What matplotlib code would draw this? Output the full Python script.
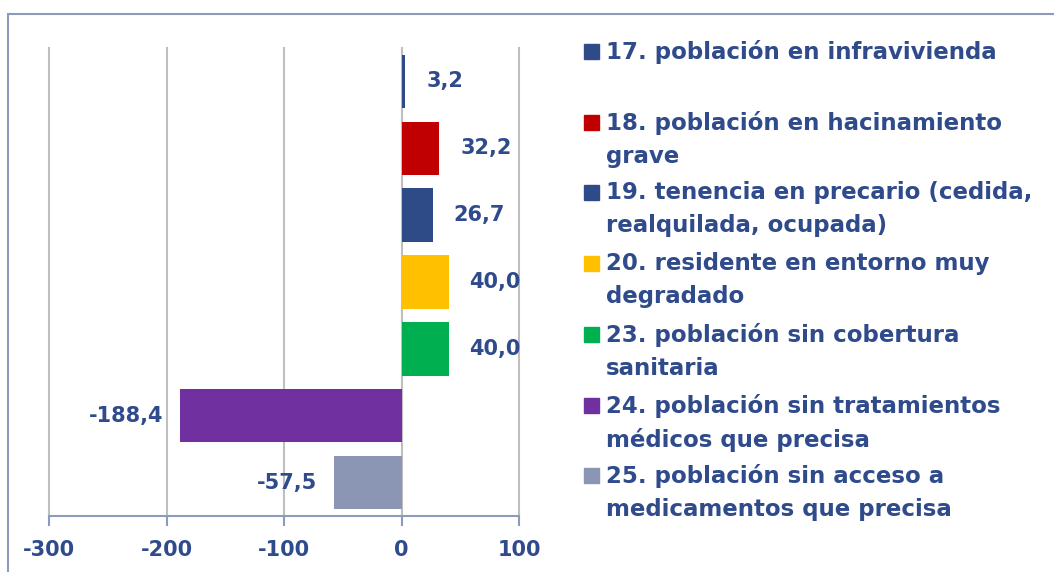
import matplotlib.pyplot as plt
from matplotlib.patches import Rectangle

# Data
labels = [
    '17. población en infravivienda',
    '18. población en hacinamiento\ngrave',
    '19. tenencia en precario (cedida,\nrealquilada, ocupada)',
    '20. residente en entorno muy\ndegradado',
    '23. población sin cobertura\nsanitaria',
    '24. población sin tratamientos\nmédicos que precisa',
    '25. población sin acceso a\nmedicamentos que precisa',
]
values = [3.2, 32.2, 26.7, 40.0, 40.0, -188.4, -57.5]
colors = ['#2E4A87', '#C00000', '#2E4A87', '#FFC000', '#00B050', '#7030A0', '#8B96B4']
xticks = [-300, -200, -100, 0, 100]

text_color = '#2F4B8C'
edge_color = '#8C9AC0'

plt.rcParams['font.family'] = 'DejaVu Sans'
plt.rcParams['font.weight'] = 'bold'

fig = plt.figure(figsize=(10.54, 5.72), dpi=100)

# outer frame (cut off at right and bottom like the original)
fig.patches.append(Rectangle((8 / 1054, -0.1), 1.2, 1 - 14 / 572 + 0.1,
                             transform=fig.transFigure, fill=False,
                             edgecolor=edge_color, linewidth=1.5))

ax = fig.add_axes([49 / 1054, 1 - 516 / 572, 470 / 1054, 468 / 572])

pos = list(range(len(values)))
ax.barh(pos, values, height=0.8, color=colors, zorder=3)
ax.set_ylim(len(values) - 0.5, -0.5)
ax.set_xlim(-300, 100)
ax.set_xticks(xticks)
ax.set_xticklabels([str(t) for t in xticks], fontsize=15, fontweight='bold', color=text_color)
ax.set_yticks([])

ax.grid(axis='x', color='#BFBFBF', linewidth=1.5, zorder=0)
for gl in ax.xaxis.get_gridlines():
    gl.set_clip_on(False)
for s in ['top', 'right', 'left']:
    ax.spines[s].set_visible(False)
ax.spines['bottom'].set_color(edge_color)
ax.spines['bottom'].set_linewidth(1.5)
ax.spines['bottom'].set_zorder(4)
ax.tick_params(axis='x', length=7, width=1.5, color=edge_color, pad=10)

# value labels
for p, v in zip(pos, values):
    txt = f'{v:.1f}'.replace('.', ',')
    if v >= 0:
        ax.annotate(txt, (v, p), xytext=(15, 0), textcoords='offset points',
                    ha='left', va='center', fontsize=15, fontweight='bold', color=text_color)
    else:
        ax.annotate(txt, (v, p), xytext=(-12, 0), textcoords='offset points',
                    ha='right', va='center', fontsize=15, fontweight='bold', color=text_color)

# legend drawn as figure text
for i, (lab, c) in enumerate(zip(labels, colors)):
    ytop = 1 - (40 + i * 70.7) / 572
    fig.patches.append(Rectangle((584 / 1054, ytop - 19 / 572), 15 / 1054, 15 / 572,
                                 transform=fig.transFigure, color=c))
    fig.text(606 / 1054, ytop, lab, ha='left', va='top', fontsize=16.5,
             fontweight='bold', color=text_color, linespacing=1.56)

plt.savefig('out.png', dpi=100)
